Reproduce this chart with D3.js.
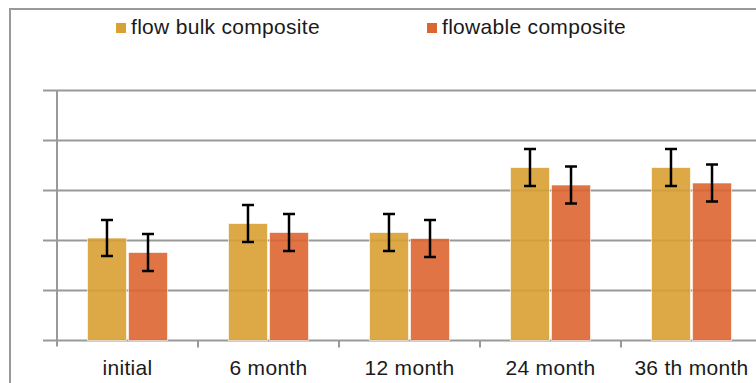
<!DOCTYPE html>
<html>
<head>
<meta charset="utf-8">
<script src="https://cdn.jsdelivr.net/npm/d3@7/dist/d3.min.js"></script>
<style>
  html, body { margin: 0; padding: 0; background: #fff; }
  svg { display: block; }
  text { font-family: "Liberation Sans", Arial, Helvetica, sans-serif; fill: #1a1a1a; }
</style>
</head>
<body>
<svg id="chart" width="756" height="383"></svg>
<script>
// ---- data ----
const categories = ["initial", "6 month", "12 month", "24 month", "36 th month"];
const seriesNames = ["flow bulk composite", "flowable composite"];
const flowBulk = [2.05, 2.34, 2.16, 3.46, 3.46];
const flowBulkErr = [0.36, 0.37, 0.37, 0.37, 0.37];
const flowable = [1.76, 2.16, 2.04, 3.11, 3.15];
const flowableErr = [0.37, 0.37, 0.37, 0.37, 0.37];
const yTicks = [0, 1, 2, 3, 4, 5];
const colors = ["#d9a032", "#dd6530"];

const seriesValues = [flowBulk, flowable];
const seriesErrs = [flowBulkErr, flowableErr];

const svg = d3.select("#chart");
const W = 756;

// outer frame
svg.append("rect")
  .attr("x", 10).attr("y", 9)
  .attr("width", 780).attr("height", 400)
  .attr("fill", "none").attr("stroke", "#999").attr("stroke-width", 2);

// scales
const x0 = d3.scaleBand().domain(categories).range([57, 762])
  .paddingInner(0.4326).paddingOuter(0.2163);
const x1 = d3.scaleBand().domain(seriesNames).range([0, x0.bandwidth()]).paddingInner(0.05);
const y = d3.scaleLinear().domain([0, 5]).range([340.5, 90.5]);

// gridlines (incl. baseline)
svg.append("g").selectAll("line").data(yTicks).join("line")
  .attr("x1", 43).attr("x2", W + 10)
  .attr("y1", d => y(d)).attr("y2", d => y(d))
  .attr("stroke", "#999").attr("stroke-width", 2);

// left axis line
svg.append("line")
  .attr("x1", 57).attr("x2", 57)
  .attr("y1", y(5)).attr("y2", y(0) + 6)
  .attr("stroke", "#999").attr("stroke-width", 2);

// category separator ticks
const sepX = categories.slice(1).map(c => x0(c) - (x0.step() - x0.bandwidth()) / 2);
svg.append("g").selectAll("line").data(sepX).join("line")
  .attr("x1", d => d).attr("x2", d => d)
  .attr("y1", y(0)).attr("y2", y(0) + 7)
  .attr("stroke", "#999").attr("stroke-width", 2);

// bars
const groups = svg.append("g").selectAll("g").data(categories).join("g")
  .attr("transform", c => `translate(${x0(c)},0)`);

groups.each(function(c, i) {
  const g = d3.select(this);
  seriesNames.forEach((s, si) => {
    const v = seriesValues[si][i];
    g.append("rect")
      .attr("x", x1(s)).attr("width", x1.bandwidth())
      .attr("y", y(v)).attr("height", y(0) - y(v))
      .attr("fill", colors[si]).attr("fill-opacity", 0.9)
      .attr("stroke", "#fff").attr("stroke-opacity", 0.6).attr("stroke-width", 1);
  });
});

// error bars
groups.each(function(c, i) {
  const g = d3.select(this);
  seriesNames.forEach((s, si) => {
    const v = seriesValues[si][i], e = seriesErrs[si][i];
    const cx = x1(s) + x1.bandwidth() / 2;
    const eg = g.append("g").attr("stroke", "#000").attr("stroke-width", 2.5);
    eg.append("line").attr("x1", cx).attr("x2", cx).attr("y1", y(v + e)).attr("y2", y(v - e));
    eg.append("line").attr("x1", cx - 6).attr("x2", cx + 6).attr("y1", y(v + e)).attr("y2", y(v + e));
    eg.append("line").attr("x1", cx - 6).attr("x2", cx + 6).attr("y1", y(v - e)).attr("y2", y(v - e));
  });
});

// category labels
svg.append("g").selectAll("text").data(categories).join("text")
  .attr("x", c => x0(c) + x0.bandwidth() / 2)
  .attr("y", 375)
  .attr("text-anchor", "middle")
  .attr("font-size", 21)
  .attr("letter-spacing", 0.3)
  .text(c => c);

// legend
const legendX = [116, 427];
const leg = svg.append("g").selectAll("g").data(seriesNames).join("g")
  .attr("transform", (d, i) => `translate(${legendX[i]},23)`);
leg.append("rect").attr("width", 10).attr("height", 10).attr("fill", (d, i) => colors[i]);
leg.append("text").attr("x", 15).attr("y", 11)
  .attr("font-size", 21).attr("letter-spacing", 0.3)
  .text(d => d);
</script>
</body>
</html>
